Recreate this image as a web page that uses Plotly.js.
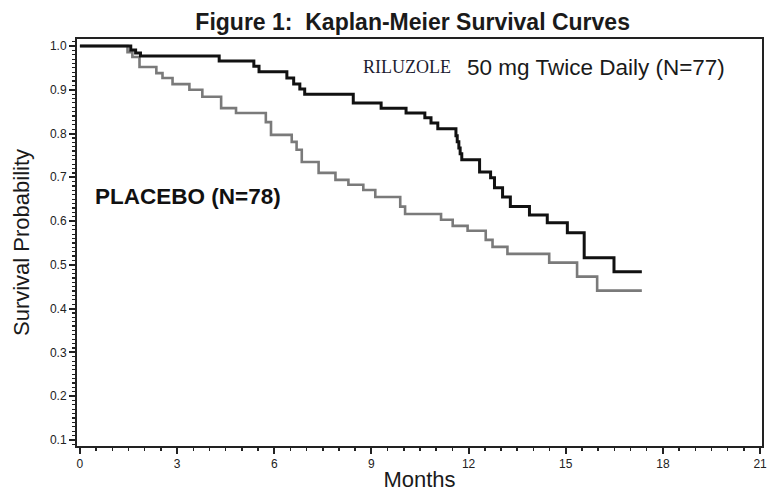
<!DOCTYPE html>
<html>
<head>
<meta charset="utf-8">
<script src="https://cdn.plot.ly/plotly-3.0.1.min.js"></script>
<style>html,body{margin:0;padding:0;background:#fff;}#chart{width:770px;height:492px;}</style>
</head>
<body>
<div id="chart"></div>
<script>
// Riluzole 50 mg twice daily (N=77) - Kaplan-Meier step points (month, survival)
const rilMonths = [0, 1.57, 1.72, 1.87, 4.30, 5.37, 5.53, 6.39, 6.60, 6.79, 6.94, 8.44, 9.30, 10.07, 10.65, 10.84, 11.05, 11.61, 11.65, 11.70, 11.74, 11.79, 12.34, 12.68, 12.80, 13.05, 13.29, 13.88, 14.43, 15.05, 15.57, 16.49, 17.35];
const rilSurv   = [1.0, 0.991, 0.984, 0.977, 0.966, 0.954, 0.941, 0.927, 0.913, 0.902, 0.890, 0.870, 0.858, 0.847, 0.836, 0.824, 0.811, 0.795, 0.781, 0.767, 0.754, 0.740, 0.712, 0.699, 0.676, 0.655, 0.633, 0.614, 0.596, 0.573, 0.516, 0.484, 0.484];
// Placebo (N=78)
const plaMonths = [0, 1.47, 1.62, 1.84, 2.36, 2.55, 2.86, 3.38, 3.78, 4.36, 4.82, 5.74, 5.90, 6.54, 6.69, 6.85, 7.37, 7.89, 8.29, 8.75, 9.12, 9.89, 10.04, 11.15, 11.51, 11.97, 12.53, 12.74, 13.20, 14.49, 15.35, 15.97, 17.35];
const plaSurv   = [1.0, 0.986, 0.975, 0.952, 0.938, 0.927, 0.913, 0.900, 0.884, 0.858, 0.847, 0.826, 0.797, 0.781, 0.763, 0.735, 0.710, 0.694, 0.683, 0.671, 0.655, 0.633, 0.616, 0.603, 0.589, 0.578, 0.557, 0.541, 0.525, 0.505, 0.473, 0.441, 0.441];

const xTickVals = [0, 3, 6, 9, 12, 15, 18, 21];
const yTickVals = [0.1, 0.2, 0.3, 0.4, 0.5, 0.6, 0.7, 0.8, 0.9, 1.0];

const traces = [
  {x: plaMonths, y: plaSurv, type: 'scatter', mode: 'lines', name: 'PLACEBO (N=78)',
   line: {shape: 'hv', color: '#7a7a7a', width: 2.6}},
  {x: rilMonths, y: rilSurv, type: 'scatter', mode: 'lines', name: 'RILUZOLE 50 mg Twice Daily (N=77)',
   line: {shape: 'hv', color: '#111111', width: 3}}
];

const layout = {
  width: 770, height: 492,
  margin: {l: 77, r: 8, t: 39, b: 46},
  paper_bgcolor: '#ffffff', plot_bgcolor: '#ffffff',
  showlegend: false,
  font: {family: 'Liberation Sans, Arial, sans-serif', color: '#222'},
  title: {text: '<b>Figure 1:  Kaplan-Meier Survival Curves</b>', font: {size: 23, color: '#1a1a1a', family: 'Liberation Sans, Arial, sans-serif'},
          x: 0.49, xref: 'paper', y: 0.955, yref: 'container', xanchor: 'center', yanchor: 'middle'},
  xaxis: {
    range: [-0.09, 21.06], tickvals: xTickVals, ticktext: xTickVals.map(String),
    ticks: 'outside', ticklen: 6, tickwidth: 2, tickcolor: '#222',
    minor: {dtick: 0.5, ticks: 'outside', ticklen: 3, tickwidth: 1.5, tickcolor: '#222', showgrid: false},
    showgrid: false, zeroline: false, showline: true, linecolor: '#222', linewidth: 2, mirror: true,
    tickfont: {size: 12, color: '#222'},
    title: {text: 'Months', font: {size: 22, color: '#1a1a1a'}, standoff: 6},
    automargin: false
  },
  yaxis: {
    range: [0.086, 1.016], tickvals: yTickVals, tickformat: '.1f',
    ticks: 'outside', ticklen: 6, tickwidth: 2, tickcolor: '#222',
    minor: {dtick: 0.01, ticks: 'outside', ticklen: 3, tickwidth: 1.2, tickcolor: '#222', showgrid: false},
    showgrid: false, zeroline: false, showline: true, linecolor: '#222', linewidth: 2, mirror: true,
    tickfont: {size: 12, color: '#222'},
    title: {text: 'Survival Probability', font: {size: 22, color: '#1a1a1a'}, standoff: 14},
    automargin: false
  },
  annotations: [
    {text: 'RILUZOLE', xref: 'paper', yref: 'paper', x: 0.414, y: 0.931, xanchor: 'left', yanchor: 'middle',
     showarrow: false, font: {family: 'Liberation Serif, Times New Roman, serif', size: 18, color: '#1c1c30'}},
    {text: '50 mg Twice Daily (N=77)', xref: 'paper', yref: 'paper', x: 0.566, y: 0.931, xanchor: 'left', yanchor: 'middle',
     showarrow: false, font: {family: 'Liberation Sans, Arial, sans-serif', size: 22.5, color: '#1a1a1a'}},
    {text: '<b>PLACEBO (N=78)</b>', xref: 'paper', yref: 'paper', x: 0.024, y: 0.612, xanchor: 'left', yanchor: 'middle',
     showarrow: false, font: {family: 'Liberation Sans, Arial, sans-serif', size: 22.5, color: '#111'}}
  ]
};

Plotly.newPlot('chart', traces, layout, {staticPlot: true, displayModeBar: false});
</script>
</body>
</html>
